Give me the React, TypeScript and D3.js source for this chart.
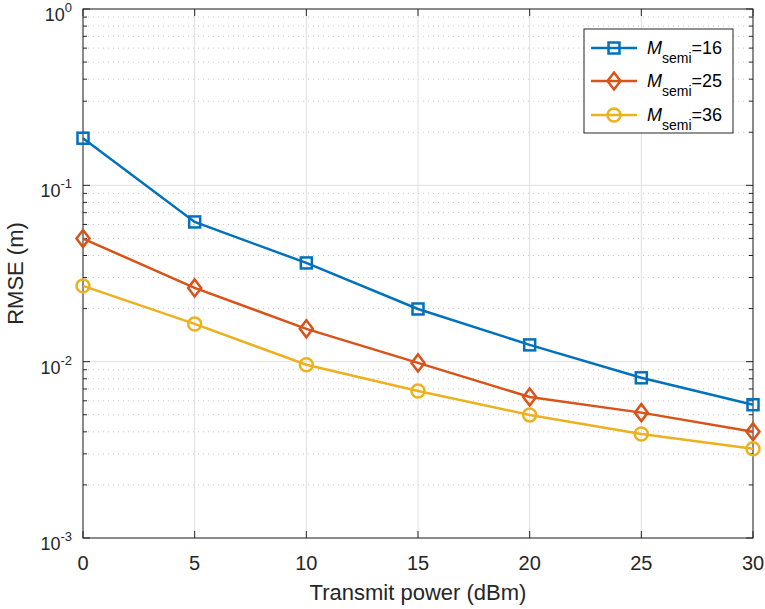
import React from "react";
import * as d3 from "d3";

const powers = [0, 5, 10, 15, 20, 25, 30];
const m16 = [0.185, 0.062, 0.0363, 0.0199, 0.01245, 0.0081, 0.0057];
const m25 = [0.0499, 0.0262, 0.01535, 0.00984, 0.0063, 0.00514, 0.00401];
const m36 = [0.0269, 0.01637, 0.0096, 0.00682, 0.00499, 0.00389, 0.00321];
const seriesNames = ["16", "25", "36"];
const xTicks = [0, 5, 10, 15, 20, 25, 30];
const yExps = [-3, -2, -1, 0];

const colors = ["#0072BD", "#D95319", "#EDB120"];
const markers = ["square", "diamond", "circle"];

const W = 765, H = 609;
const L = 83, R = 753, T = 9, B = 538;

function Marker({ type, x, y, color }: { type: string; x: number; y: number; color: string }) {
  const sw = 2.5;
  if (type === "square") return <rect x={x - 5.5} y={y - 5.5} width={11} height={11} fill="none" stroke={color} strokeWidth={sw} />;
  if (type === "diamond") return <path d={`M${x},${y - 8.5}L${x + 6.5},${y}L${x},${y + 8.5}L${x - 6.5},${y}Z`} fill="none" stroke={color} strokeWidth={sw} />;
  return <circle cx={x} cy={y} r={6.5} fill="none" stroke={color} strokeWidth={sw} />;
}

export default function App() {
  const x = d3.scaleLinear().domain([0, 30]).range([L, R]);
  const y = d3.scaleLog().domain([1e-3, 1]).range([B, T]);
  const data = [m16, m25, m36];
  const line = d3.line<[number, number]>().x(d => x(d[0])).y(d => y(d[1]));
  const minor: number[] = [];
  yExps.slice(0, -1).forEach(e => { for (let k = 2; k <= 9; k++) minor.push(k * Math.pow(10, e)); });
  const font = "'Liberation Sans', Arial, Helvetica, sans-serif";
  const axisColor = "#262626";
  const legX = 584, legY = 29, legW = 149, legH = 104;
  const rowY = [48, 81, 115];
  return (
    <svg width={W} height={H} style={{ position: "absolute", left: 0, top: 0, background: "#fff" }} fontFamily={font}>
      <rect x={0} y={0} width={W} height={H} fill="#fff" />
      {/* grid */}
      {minor.map((v, i) => (
        <line key={"mg" + i} x1={L} x2={R} y1={y(v)} y2={y(v)} stroke="#c8c8c8" strokeWidth={1} strokeDasharray="1,4" />
      ))}
      {yExps.map(e => (
        <line key={"yg" + e} x1={L} x2={R} y1={y(Math.pow(10, e))} y2={y(Math.pow(10, e))} stroke="#dfdfdf" strokeWidth={1} />
      ))}
      {xTicks.map(t => (
        <line key={"xg" + t} x1={x(t)} x2={x(t)} y1={T} y2={B} stroke="#dfdfdf" strokeWidth={1} />
      ))}
      {/* ticks */}
      {xTicks.map(t => (
        <g key={"xt" + t}>
          <line x1={x(t)} x2={x(t)} y1={B} y2={B - 7} stroke={axisColor} />
          <line x1={x(t)} x2={x(t)} y1={T} y2={T + 7} stroke={axisColor} />
          <text x={x(t)} y={B + 32} textAnchor="middle" fontSize={20} fill={axisColor}>{t}</text>
        </g>
      ))}
      {yExps.map(e => (
        <g key={"yt" + e}>
          <line x1={L} x2={L + 7} y1={y(Math.pow(10, e))} y2={y(Math.pow(10, e))} stroke={axisColor} />
          <line x1={R} x2={R - 7} y1={y(Math.pow(10, e))} y2={y(Math.pow(10, e))} stroke={axisColor} />
          <text x={L - 11} y={y(Math.pow(10, e)) + 12} textAnchor="end" fontSize={18} fill={axisColor}>
            10<tspan dy={-9} fontSize={13}>{e}</tspan>
          </text>
        </g>
      ))}
      {minor.map((v, i) => (
        <g key={"mt" + i}>
          <line x1={L} x2={L + 4} y1={y(v)} y2={y(v)} stroke={axisColor} />
          <line x1={R} x2={R - 4} y1={y(v)} y2={y(v)} stroke={axisColor} />
        </g>
      ))}
      <rect x={L} y={T} width={R - L} height={B - T} fill="none" stroke={axisColor} strokeWidth={1} />
      {/* series */}
      {data.map((s, i) => {
        const pts = powers.map((p, j) => [p, s[j]] as [number, number]);
        return (
          <g key={"s" + i}>
            <path d={line(pts) || ""} fill="none" stroke={colors[i]} strokeWidth={2.5} />
            {pts.map((d, j) => <Marker key={j} type={markers[i]} x={x(d[0])} y={y(d[1])} color={colors[i]} />)}
          </g>
        );
      })}
      {/* axis labels */}
      <text x={(L + R) / 2} y={B + 62} textAnchor="middle" fontSize={22} fill={axisColor}>Transmit power (dBm)</text>
      <text transform={`translate(23,${(T + B) / 2}) rotate(-90)`} textAnchor="middle" fontSize={22} fill={axisColor}>RMSE (m)</text>
      {/* legend */}
      <rect x={legX} y={legY} width={legW} height={legH} fill="#fff" stroke={axisColor} strokeWidth={1} />
      {seriesNames.map((n, i) => (
        <g key={"lg" + i}>
          <line x1={591} x2={637} y1={rowY[i]} y2={rowY[i]} stroke={colors[i]} strokeWidth={2.5} />
          <Marker type={markers[i]} x={614} y={rowY[i]} color={colors[i]} />
          <text x={647} y={rowY[i] + 6} fontSize={18} fill="#000">
            <tspan fontStyle="italic">M</tspan>
            <tspan dy={9} fontSize={14}>semi</tspan>
            <tspan dy={-9}>={n}</tspan>
          </text>
        </g>
      ))}
    </svg>
  );
}
